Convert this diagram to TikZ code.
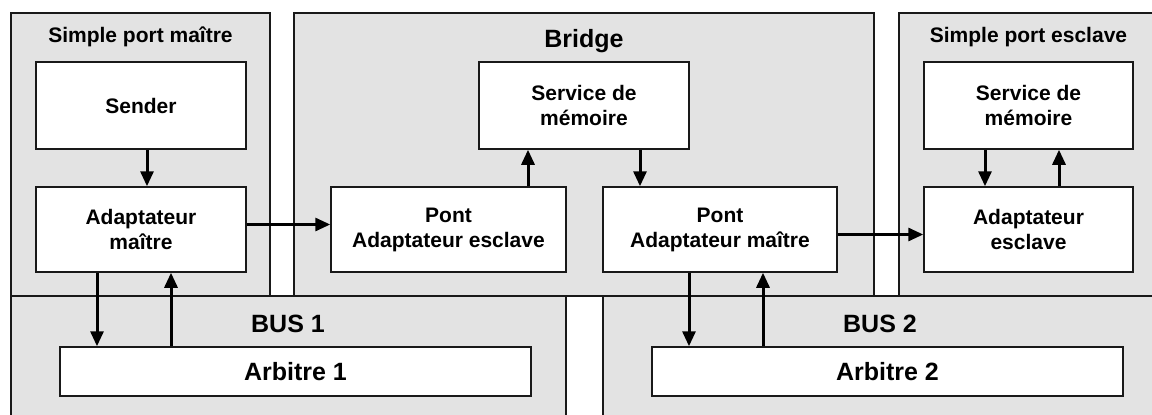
\documentclass[tikz,border=0pt]{standalone}
\usepackage{fontspec}
\setmainfont{Liberation Sans}
\usetikzlibrary{arrows.meta,calc}
\definecolor{panelgray}{RGB}{227,227,227}
\tikzset{
	panel/.style={draw=black!90, line width=1.5pt, fill=panelgray},
	blk/.style={draw=black!90, line width=1.5pt, fill=white, inner sep=0pt, align=center,
		font=\fontsize{21}{25}\selectfont\bfseries},
	ttl/.style={inner sep=0pt, anchor=base, font=\fontsize{21}{25}\selectfont\bfseries},
	bigttl/.style={inner sep=0pt, anchor=base, font=\fontsize{25}{29}\selectfont\bfseries},
	arr/.style={line width=3pt, -{Triangle[length=15pt,width=13pt]}},
}

\begin{document}
\begin{tikzpicture}[x=1pt,y=-1pt]
			%%%%% START %%%%%
			\useasboundingbox (0,0) rectangle (1152,415);
			\clip (0,0) rectangle (1152,415);
			
			% containers
			\draw[panel] (11,13) rectangle (270,296);
			\draw[panel] (294,13) rectangle (874,296);
			\draw[panel] (899,13) rectangle (1158,296);
			\draw[panel] (11,296) rectangle (566,430);
			\draw[panel] (603,296) rectangle (1158,430);
			
			\node[ttl] (tmaitre) at (140.5,42) {Simple port maître};
			\node[bigttl] (tbridge) at (584,47) {Bridge};
			\node[ttl] (tesclave) at (1028.5,42) {Simple port esclave};
			\node[bigttl] (tbus1) at (288,332) {BUS 1};
			\node[bigttl] (tbus2) at (880,332) {BUS 2};
			
			% blocks
			\node[blk, minimum width=210pt, minimum height=87pt] (sender) at (141,105.5) {Sender};
			\node[blk, minimum width=210pt, minimum height=85pt] (adaptM) at (141,229.5) {Adaptateur\\maître};
			\node[blk, minimum width=210pt, minimum height=87pt] (memB) at (584,105.5) {Service de\\mémoire};
			\node[blk, minimum width=235pt, minimum height=85pt] (pontE) at (448.5,229.5) {Pont\\Adaptateur esclave};
			\node[blk, minimum width=234pt, minimum height=85pt] (pontM) at (720,229.5) {Pont\\Adaptateur maître};
			\node[blk, minimum width=209pt, minimum height=87pt] (memE) at (1028.5,105.5) {Service de\\mémoire};
			\node[blk, minimum width=209pt, minimum height=85pt] (adaptE) at (1028.5,229.5) {Adaptateur\\esclave};
			\node[blk, minimum width=471pt, minimum height=49pt, font=\fontsize{25}{29}\selectfont\bfseries] (arb1) at (295.5,371.5) {Arbitre 1};
			\node[blk, minimum width=471pt, minimum height=49pt, font=\fontsize{25}{29}\selectfont\bfseries] (arb2) at (887.5,371.5) {Arbitre 2};
			
			% arrows
			\draw[arr] ([xshift=6pt]sender.south) -- ([xshift=6pt]sender.south |- adaptM.north);
			\draw[arr] ([xshift=-44pt]adaptM.south) -- ([xshift=-44pt]adaptM.south |- arb1.north);
			\draw[arr] ([xshift=30pt]adaptM.south |- arb1.north) -- ([xshift=30pt]adaptM.south);
			\draw[arr] ([yshift=5pt]adaptM.east) -- ([yshift=5pt]adaptM.east -| pontE.west);
			\draw[arr] ([xshift=-56pt]memB.south |- pontE.north) -- ([xshift=-56pt]memB.south);
			\draw[arr] ([xshift=56pt]memB.south) -- ([xshift=56pt]memB.south |- pontM.north);
			\draw[arr] ([yshift=-5pt]pontM.east) -- ([yshift=-5pt]pontM.east -| adaptE.west);
			\draw[arr] ([xshift=-31pt]pontM.south) -- ([xshift=-31pt]pontM.south |- arb2.north);
			\draw[arr] ([xshift=43pt]pontM.south |- arb2.north) -- ([xshift=43pt]pontM.south);
			\draw[arr] ([xshift=-43.5pt]memE.south) -- ([xshift=-43.5pt]memE.south |- adaptE.north);
			\draw[arr] ([xshift=30.5pt]adaptE.north) -- ([xshift=30.5pt]adaptE.north |- memE.south);
			
			%%%%% END %%%%%
\end{tikzpicture}
\end{document}
